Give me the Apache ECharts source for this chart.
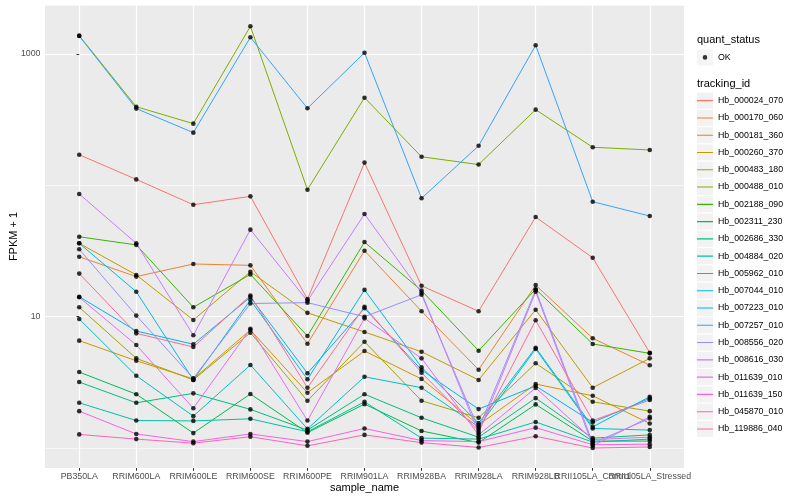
<!DOCTYPE html>
<html><head><meta charset="utf-8">
<script src="https://cdn.jsdelivr.net/npm/echarts@6/dist/echarts.min.js"></script>
<style>html,body{margin:0;padding:0;background:#fff}#c{width:800px;height:500px}</style>
</head><body><div id="c"></div>
<script>
const categories = ['PB350LA','RRIM600LA','RRIM600LE','RRIM600SE','RRIM600PE','RRIM901LA','RRIM928BA','RRIM928LA','RRIM928LB','RRII105LA_Control','RRII105LA_Stressed'];
const trackingIds = ['Hb_000024_070','Hb_000170_060','Hb_000181_360','Hb_000260_370','Hb_000483_180','Hb_000488_010','Hb_002188_090','Hb_002311_230','Hb_002686_330','Hb_004884_020','Hb_005962_010','Hb_007044_010','Hb_007223_010','Hb_007257_010','Hb_008556_020','Hb_008616_030','Hb_011639_010','Hb_011639_150','Hb_045870_010','Hb_119886_040'];
const quantStatus = ['OK'];
const yTickValues = [10, 1000];
const yTickLabels = ['10', '1000'];

// FPKM + 1 values, one array per tracking_id, in category order
const Hb_000024_070 = [171, 111, 71.2, 82.5, 13.6, 149, 17.2, 11.0, 57.4, 28.1, 5.32];
const Hb_000170_060 = [28.6, 20.2, 25.2, 24.6, 6.23, 31.8, 11.0, 3.95, 17.4, 6.85, 4.27];
const Hb_000181_360 = [6.57, 4.62, 3.36, 7.92, 2.64, 5.48, 3.36, 1.50, 3.07, 2.50, 1.54];
const Hb_000260_370 = [36.2, 20.8, 9.44, 22.0, 10.7, 7.65, 5.41, 3.30, 11.3, 2.88, 4.82];
const Hb_000483_180 = [11.8, 4.82, 3.30, 7.55, 2.29, 6.45, 2.29, 1.70, 4.42, 2.25, 1.91];
const Hb_000488_010 = [1380, 397, 295, 1625, 92.7, 465, 165, 144, 377, 195, 186];
const Hb_002188_090 = [40.6, 35.2, 11.8, 21.0, 7.13, 37.0, 15.8, 5.51, 16.2, 6.20, 5.26];
const Hb_002311_230 = [3.79, 2.57, 1.30, 2.58, 1.31, 2.16, 1.35, 1.10, 2.15, 1.13, 1.13];
const Hb_002686_330 = [3.18, 2.21, 2.61, 1.97, 1.37, 2.57, 1.70, 1.21, 2.40, 1.19, 1.26];
const Hb_004884_020 = [2.21, 1.62, 1.61, 1.67, 1.33, 2.25, 1.19, 1.17, 1.58, 1.11, 1.17];
const Hb_005962_010 = [9.60, 3.55, 1.75, 4.29, 1.40, 3.49, 2.88, 1.45, 5.68, 1.41, 1.37];
const Hb_007044_010 = [36.2, 15.5, 3.30, 13.4, 3.34, 16.0, 4.12, 1.55, 5.81, 1.45, 2.46];
const Hb_007223_010 = [14.2, 7.78, 6.17, 14.1, 3.71, 11.6, 3.93, 1.98, 2.97, 1.57, 2.39];
const Hb_007257_010 = [1370, 384, 252, 1340, 386, 1023, 79.7, 200, 1165, 75.1, 58.4];
const Hb_008556_020 = [32.6, 10.2, 3.40, 12.6, 12.8, 10.0, 14.7, 1.40, 16.0, 1.09, 1.68];
const Hb_008616_030 = [85.9, 36.2, 7.22, 46.0, 13.2, 60.5, 15.2, 1.30, 15.5, 1.04, 1.73];
const Hb_011639_010 = [14.05, 6.09, 2.01, 8.10, 1.62, 9.72, 4.82, 1.26, 2.87, 1.16, 1.21];
const Hb_011639_150 = [1.91, 1.28, 1.12, 1.28, 1.12, 1.41, 1.14, 1.12, 1.43, 1.06, 1.07];
const Hb_045870_010 = [1.27, 1.17, 1.09, 1.22, 1.04, 1.26, 1.10, 1.01, 1.23, 1.00, 1.02];
const Hb_119886_040 = [21.3, 7.47, 5.88, 14.5, 2.88, 11.9, 3.75, 1.35, 9.39, 1.62, 2.32];

const seriesValues = [Hb_000024_070, Hb_000170_060, Hb_000181_360, Hb_000260_370, Hb_000483_180, Hb_000488_010, Hb_002188_090, Hb_002311_230, Hb_002686_330, Hb_004884_020, Hb_005962_010, Hb_007044_010, Hb_007223_010, Hb_007257_010, Hb_008556_020, Hb_008616_030, Hb_011639_010, Hb_011639_150, Hb_045870_010, Hb_119886_040];

// ggplot2 hue palette (style)
const colors = ['#F8766D','#EA8331','#D89000','#C09B00','#A3A500','#7CAE00','#39B600','#00BB4E','#00BF7D','#00C1A3','#00BFC4','#00BAE0','#00B0F6','#35A2FF','#9590FF','#C77CFF','#E76BF3','#FA62DB','#FF62BC','#FF6A98'];

const FONT = '"Liberation Sans", Arial, Helvetica, sans-serif';
const yMin = 0.705, yMax = 2361;
// tick groups: the last two labels overlap in the original, so each sits on its own axis
const xTickGroups = [[0, 1, 2, 3, 4, 5, 6, 7, 8], [9], [10]];

const lineSeries = trackingIds.map((id, k) => ({
  name: id, type: 'line', symbol: 'none', showSymbol: false,
  data: seriesValues[k].map((v, i) => [i, v]),
  lineStyle: { color: colors[k], width: 1 }, itemStyle: { color: colors[k] },
  emphasis: { disabled: true }, silent: true, z: 2
}));
const pointData = [];
seriesValues.forEach(arr => arr.forEach((v, i) => pointData.push([i, v])));
const pointSeries = {
  name: quantStatus[0], type: 'scatter', data: pointData, symbol: 'circle', symbolSize: 4.6,
  itemStyle: { color: '#000' }, emphasis: { disabled: true }, silent: true, z: 3
};

const lineIcon = 'path://M0,0L16,0Z M0,7.5L16,7.5L16,8.6L0,8.6Z M0,16L16,16Z';
const dotIcon = 'path://M0,0L16,0Z M10.3,8A2.3,2.3 0 1 1 5.7,8A2.3,2.3 0 1 1 10.3,8Z M0,16L16,16Z';
const legendText = { fontSize: 8.8, fontFamily: FONT, color: '#000' };
const boxText = { fontSize: 8.8, fontFamily: FONT, color: 'rgba(0,0,0,0)' };
const legBase = { orient: 'vertical', left: 697, itemWidth: 16, itemHeight: 16, padding: 0, selectedMode: false };

const xAxes = xTickGroups.map((vals, g) => ({
  type: 'value', min: -0.6, max: 10.6, position: 'bottom', offset: 0,
  name: g === 0 ? 'sample_name' : '', nameLocation: 'middle', nameGap: 14, nameMoveOverlap: false,
  nameTextStyle: { fontSize: 11, color: '#000', fontFamily: FONT },
  axisLine: { show: false },
  axisTick: { show: true, length: 2.75, customValues: vals, lineStyle: { color: '#333333', width: 1 } },
  axisLabel: { customValues: vals, hideOverlap: false, formatter: v => { const r = Math.round(v); return categories[r] !== undefined ? categories[r] : ''; }, fontSize: 8.8, color: '#4D4D4D', margin: 4.5, fontFamily: FONT },
  splitLine: { show: true, lineStyle: { color: '#ffffff', width: 1.2 } }
}));

const option = {
  animation: false,
  backgroundColor: '#ffffff',
  title: [
    { text: 'quant_status', left: 697, top: 34.5, padding: 0, textStyle: { fontSize: 11, fontWeight: 'normal', color: '#000', fontFamily: FONT } },
    { text: 'tracking_id', left: 697, top: 78, padding: 0, textStyle: { fontSize: 11, fontWeight: 'normal', color: '#000', fontFamily: FONT } }
  ],
  grid: { left: 45, right: 116, top: 5, bottom: 32, show: true, backgroundColor: '#EBEBEB', borderWidth: 0, containLabel: false, outerBoundsMode: 'none' },
  legend: [
    Object.assign({}, legBase, { id: 'okBox', top: 49.4, data: quantStatus.map(n => ({ name: n })), icon: 'rect', itemStyle: { color: '#F2F2F2', borderWidth: 0 }, textStyle: boxText }),
    Object.assign({}, legBase, { id: 'ok', top: 49.4, data: quantStatus.map(n => ({ name: n, icon: dotIcon, itemStyle: { color: '#000', borderWidth: 0 } })), textStyle: legendText }),
    Object.assign({}, legBase, { id: 'idBox', top: 92.6, itemGap: 1.28, data: trackingIds.map(n => ({ name: n })), icon: 'rect', itemStyle: { color: '#F2F2F2', borderWidth: 0 }, textStyle: boxText }),
    Object.assign({}, legBase, { id: 'id', top: 92.6, itemGap: 1.28, data: trackingIds.map((n, k) => ({ name: n, icon: lineIcon, itemStyle: { color: colors[k], borderWidth: 0 } })), textStyle: legendText })
  ],
  xAxis: xAxes,
  yAxis: [
    {
      type: 'log', logBase: 10, min: yMin, max: yMax,
      name: 'FPKM + 1', nameLocation: 'middle', nameGap: 26, nameRotate: 90, nameMoveOverlap: false,
      nameTextStyle: { fontSize: 11, color: '#000', fontFamily: FONT },
      axisLine: { show: false },
      axisTick: { show: true, length: 2.75, customValues: yTickValues, lineStyle: { color: '#333333', width: 1 } },
      axisLabel: { customValues: yTickValues, hideOverlap: false, formatter: v => { for (let i = 0; i < yTickValues.length; i++) { if (Math.abs(v - yTickValues[i]) / yTickValues[i] < 1e-6) return yTickLabels[i]; } return ''; }, fontSize: 8.8, color: '#4D4D4D', margin: 4.5, fontFamily: FONT },
      splitLine: { show: true, lineStyle: { color: '#ffffff', width: 1.2 } }
    },
    {
      type: 'log', logBase: 10, min: yMin, max: yMax, position: 'left',
      axisLine: { show: false }, axisTick: { show: false }, axisLabel: { show: false },
      splitLine: { show: true, lineStyle: { color: '#ffffff', width: 0.6 } }
    }
  ],
  series: lineSeries.concat([pointSeries])
};

const chart = echarts.init(document.getElementById('c'), null, { renderer: 'canvas' });
chart.setOption(option);
</script>
</body></html>
